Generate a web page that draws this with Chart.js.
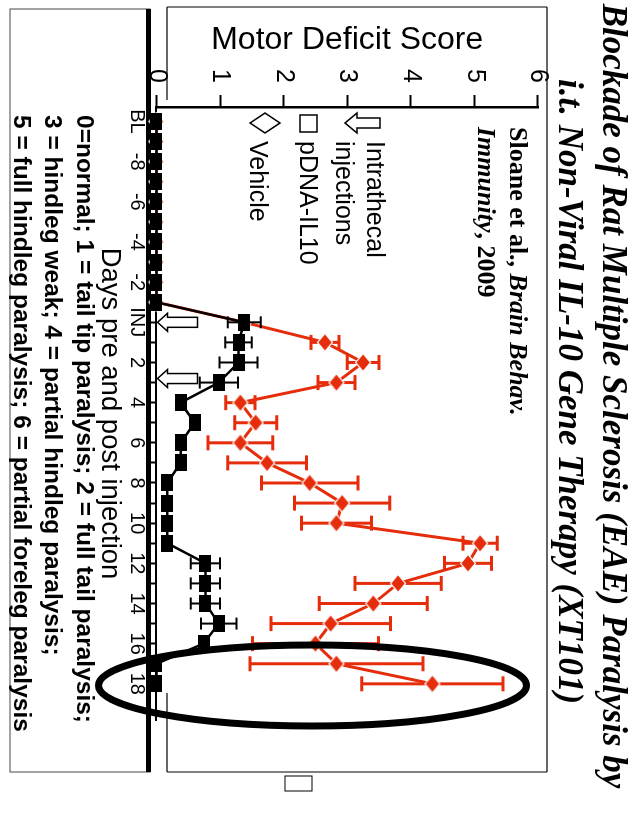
<!DOCTYPE html>
<html>
<head>
<meta charset="utf-8">
<script src="https://cdn.jsdelivr.net/npm/chart.js"></script>
<style>
  html, body { margin:0; padding:0; background:#fff; overflow:hidden; }
  #slide { position:absolute; left:0; top:0; width:814px; height:642px;
           transform-origin:0 0; transform: translate(642px,0) rotate(90deg); background:#fff; }
  #slide svg, #slide canvas { position:absolute; left:0; top:0; }
</style>
</head>
<body>
<div id="slide">
  <svg width="814" height="642" id="bg">
    <!-- chart text box -->
    <line x1="7" y1="95" x2="772" y2="95" stroke="#000" stroke-width="1.2"/>
    <line x1="7" y1="95" x2="7" y2="475" stroke="#000" stroke-width="1.2"/>
    <line x1="772" y1="95" x2="772" y2="475" stroke="#000" stroke-width="1.2"/>
    <line x1="7" y1="475" x2="100" y2="475" stroke="#000" stroke-width="1.2"/>
    <line x1="693" y1="475" x2="772" y2="475" stroke="#000" stroke-width="1.2"/>
    <!-- score description box -->
    <rect x="9" y="492" width="763" height="140" fill="none" stroke="#666" stroke-width="1.2"/>
    <line x1="9" y1="493.5" x2="772" y2="493.5" stroke="#000" stroke-width="5"/>
  </svg>
  <canvas id="c" width="814" height="642"></canvas>
  <svg width="814" height="642" id="fg" font-family="'Liberation Sans', Arial, sans-serif">
    <g font-family="'Liberation Serif', 'Times New Roman', serif" font-weight="bold" font-style="italic" font-size="35" text-anchor="middle">
      <text x="396" y="39">Blockade of Rat Multiple Sclerosis (EAE) Paralysis by</text>
      <text x="391.5" y="83">i.t. Non-Viral IL-10 Gene Therapy (XT101)</text>
    </g>
    <g font-family="'Liberation Serif', 'Times New Roman', serif" font-weight="bold" font-size="26">
      <text x="127" y="132">Sloane et al., <tspan font-style="italic">Brain Behav.</tspan></text>
      <text x="127" y="164"><tspan font-style="italic">Immunity</tspan>, 2009</text>
    </g>
    <g font-size="25" fill="#000">
      <path d="M123,297 L113,285 L118,285 L118,262 L128,262 L128,285 L133,285 Z" fill="#fff" stroke="#000" stroke-width="1.5"/>
      <text x="141" y="275">Intrathecal</text>
      <text x="141" y="306">injections</text>
      <rect x="115" y="325" width="17" height="17" fill="#fff" stroke="#000" stroke-width="1.5"/>
      <text x="141" y="342">pDNA-IL10</text>
      <path d="M123,362 L133,377 L123,392 L113,377 Z" fill="#fff" stroke="#000" stroke-width="1.5"/>
      <text x="141" y="392">Vehicle</text>
    </g>
    <g font-size="24.5" font-weight="bold" fill="#000">
      <text x="115" y="565">0=normal; 1 = tail tip paralysis; 2 = full tail paralysis;</text>
      <text x="115" y="597">3 = hindleg weak; 4 = partial hindleg paralysis;</text>
      <text x="115" y="628">5 = full hindleg paralysis; 6 = partial foreleg paralysis</text>
    </g>
    <ellipse cx="685.5" cy="329.5" rx="40.5" ry="214" fill="none" stroke="#000" stroke-width="7"/>
    <rect x="776" y="330" width="15" height="27" fill="none" stroke="#000" stroke-width="1"/>
  </svg>
</div>
<script>
// ---- data ----
const days = [-10,-9,-8,-7,-6,-5,-4,-3,-2,-1,0,1,2,3,4,5,6,7,8,9,10,11,12,13,14,15,16,17,18];
const dayLabels = ['BL','','-8','','-6','','-4','','-2','','INJ','','2','','4','','6','','8','','10','','12','','14','','16','','18'];
const pdnaIL10 = [0,0,0,0,0,0,0,0,0,0,
  1.38,1.29,1.29,0.98,0.38,0.60,0.38,0.38,0.17,0.17,0.17,0.17,0.77,0.77,0.77,0.98,0.74,0,0];
const pdnaIL10Err = [0,0,0,0,0,0,0,0,0,0,
  0.26,0.21,0.30,0.30,0,0,0,0,0,0,0,0,0.23,0.23,0.23,0.28,0,0,0];
const vehicle = [0,0,0,0,0,0,0,0,0,0,
  1.38,2.65,3.25,2.83,1.32,1.56,1.32,1.74,2.41,2.92,2.83,5.09,4.90,3.80,3.41,2.74,2.50,2.83,4.34];
const vehicleErr = [0,0,0,0,0,0,0,0,0,0,
  0,0.22,0.25,0.29,0.23,0.33,0.51,0.62,0.76,0.75,0.55,0.27,0.37,0.68,0.85,0.94,0.99,1.36,1.11];
const injectionDays = [0, 2.8];
const scoreTicks = [0,1,2,3,4,5,6];

const RED = '#e62d0b';
const FONT = "'Liberation Sans', Arial, sans-serif";

function makeRect(w, h, color) {
  const c = document.createElement('canvas'); c.width = w; c.height = h;
  const g = c.getContext('2d'); g.fillStyle = color; g.fillRect(0, 0, w, h); return c;
}
function makeDiamond(w, h, color) {
  const c = document.createElement('canvas'); c.width = w + 3; c.height = h + 3;
  const g = c.getContext('2d');
  g.beginPath(); g.moveTo(c.width/2, 1.5); g.lineTo(c.width-1.5, c.height/2);
  g.lineTo(c.width/2, c.height-1.5); g.lineTo(1.5, c.height/2); g.closePath();
  g.fillStyle = color; g.fill(); g.strokeStyle = '#fff'; g.lineWidth = 1.2; g.stroke();
  return c;
}

const errorSets = { 0: pdnaIL10Err, 1: vehicleErr };
const errorBars = {
  id: 'errorBars',
  beforeDatasetDraw(chart, args) {
    const errs = errorSets[args.index]; if (!errs) return;
    const ds = chart.data.datasets[args.index];
    const ys = chart.scales.y, ctx = chart.ctx;
    const cap = args.index === 1 ? 7.5 : 6;
    ctx.save();
    ctx.strokeStyle = ds.borderColor;
    ctx.lineWidth = args.index === 1 ? 3 : 2;
    args.meta.data.forEach((pt, i) => {
      const e = errs[i]; if (!e) return;
      const v = ds.data[i].y;
      const y1 = ys.getPixelForValue(v - e), y2 = ys.getPixelForValue(v + e);
      const x = pt.x;
      ctx.beginPath();
      ctx.moveTo(x, y1); ctx.lineTo(x, y2);
      ctx.moveTo(x - cap, y1); ctx.lineTo(x + cap, y1);
      ctx.moveTo(x - cap, y2); ctx.lineTo(x + cap, y2);
      ctx.stroke();
    });
    ctx.restore();
  }
};
const injectionArrows = {
  id: 'injectionArrows',
  afterDatasetsDraw(chart) {
    const xs = chart.scales.x, ys = chart.scales.y, ctx = chart.ctx;
    const tip = ys.getPixelForValue(0) - 1;
    ctx.save();
    ctx.fillStyle = '#fff'; ctx.strokeStyle = '#000'; ctx.lineWidth = 1.5;
    injectionDays.forEach(d => {
      const cx = xs.getPixelForValue(d);
      ctx.beginPath();
      ctx.moveTo(cx, tip);
      ctx.lineTo(cx - 9, tip - 10); ctx.lineTo(cx - 5, tip - 10);
      ctx.lineTo(cx - 5, tip - 40); ctx.lineTo(cx + 5, tip - 40);
      ctx.lineTo(cx + 5, tip - 10); ctx.lineTo(cx + 9, tip - 10);
      ctx.closePath(); ctx.fill(); ctx.stroke();
    });
    ctx.restore();
  }
};

new Chart(document.getElementById('c'), {
  type: 'line',
  data: {
    datasets: [
      { label: 'pDNA-IL10', data: days.map((d, i) => ({x: d, y: pdnaIL10[i]})),
        borderColor: '#000', backgroundColor: '#000', borderWidth: 2.5, tension: 0,
        pointStyle: makeRect(17, 12, '#000'), pointRadius: 8, clip: false },
      { label: 'Vehicle', data: days.map((d, i) => ({x: d, y: vehicle[i]})),
        borderColor: RED, backgroundColor: RED, borderWidth: 3, tension: 0,
        pointStyle: makeDiamond(18, 15, RED), pointRadius: 8, clip: false }
    ]
  },
  plugins: [errorBars, injectionArrows],
  options: {
    responsive: false, animation: false, devicePixelRatio: 1,
    layout: { padding: { left: 20, top: 104, right: 94, bottom: 93 } },
    plugins: { legend: { display: false }, tooltip: { enabled: false } },
    scales: {
      x: {
        type: 'linear', min: -10.72, max: 19.8,
        afterBuildTicks: s => { s.ticks = days.map(d => ({ value: d })); },
        afterFit: s => { s.height = 63.5; },
        ticks: { autoSkip: false, maxRotation: 0, minRotation: 0, padding: 0, color: '#000',
                 font: { family: FONT, size: 20 },
                 callback: v => dayLabels[days.indexOf(v)] },
        grid: { drawOnChartArea: false, drawTicks: true, tickLength: 8, tickWidth: 2, tickColor: '#000' },
        border: { display: true, color: '#000', width: 2 },
        title: { display: true, text: 'Days pre and post injection', color: '#000',
                 font: { family: FONT, size: 27.5 }, padding: 0 }
      },
      y: {
        min: 0, max: 6,
        afterBuildTicks: s => { s.ticks = scoreTicks.map(v => ({ value: v })); },
        afterFit: s => { s.width = 87; },
        ticks: { padding: 12, color: '#000', font: { family: FONT, size: 25 } },
        grid: { drawOnChartArea: false, drawTicks: true, tickLength: 12, tickWidth: 2, tickColor: '#000' },
        border: { display: true, color: '#000', width: 2.5 },
        title: { display: true, text: 'Motor Deficit Score', color: '#000',
                 font: { family: FONT, size: 32 }, padding: { top: 1, bottom: 0 } }
      }
    }
  }
});
</script>
</body>
</html>
